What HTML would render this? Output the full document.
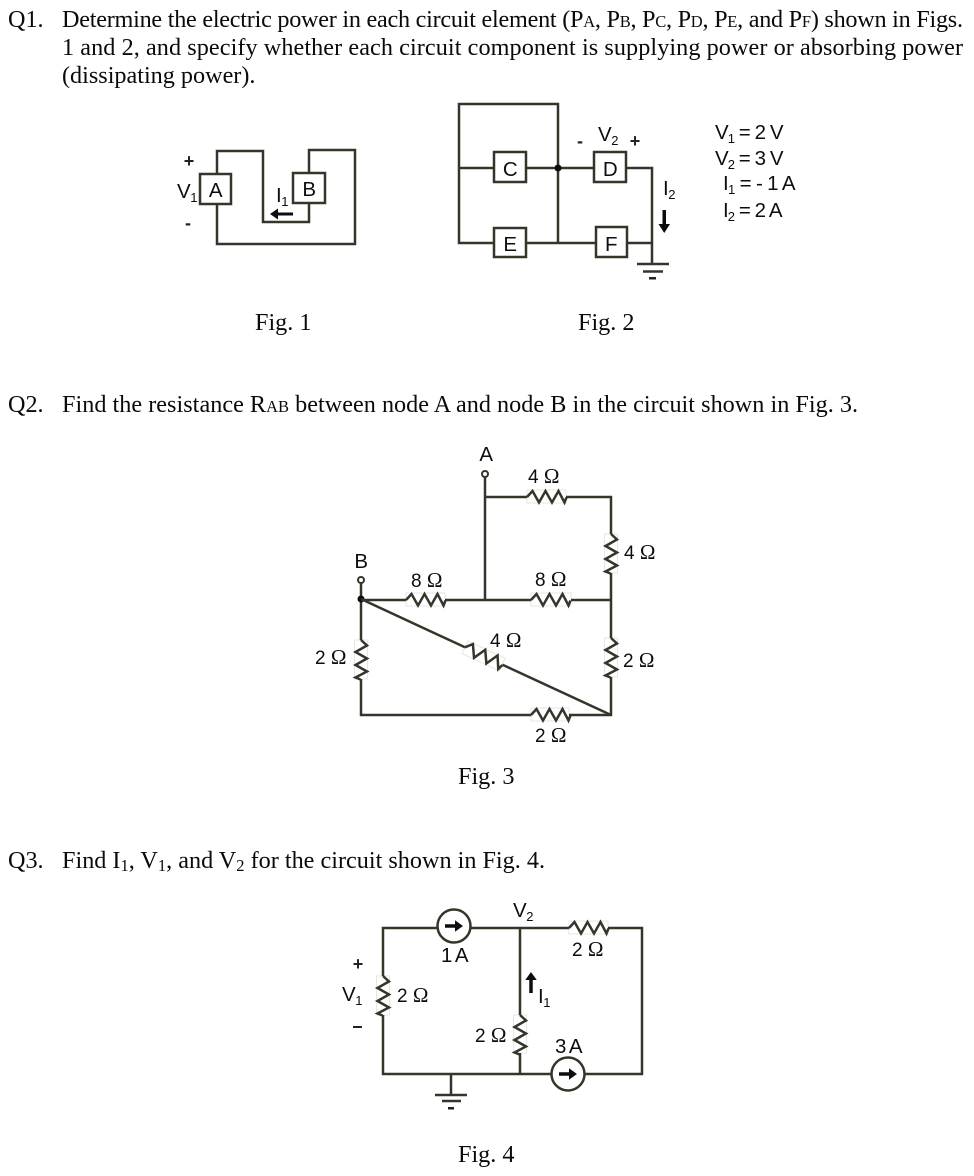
<!DOCTYPE html>
<html>
<head>
<meta charset="utf-8">
<style>
html,body{margin:0;padding:0;background:#fff;width:974px;height:1176px;overflow:hidden}
svg{display:block}
.t{font-family:"Liberation Serif",serif;font-size:24.2px;fill:#0a0a0a}
.t .s{font-size:16.5px}
.t .d{font-size:16.5px}
.w{fill:none;stroke:#36352b;stroke-width:2.5;stroke-linejoin:miter}
.r{fill:none;stroke:#e6e6e4;stroke-width:1}
.b{fill:#fff;stroke:#36352b;stroke-width:2.5}
.l{font-family:"Liberation Sans",sans-serif;font-size:19px;fill:#111}
.l .o{font-family:"Liberation Serif",serif;font-size:21px}
.l .u{font-size:13px}
.c{text-anchor:middle}
.n{font-size:20.5px;letter-spacing:-0.5px}
.p{font-family:"Liberation Sans",sans-serif;font-size:18px;font-weight:bold;fill:#222;text-anchor:middle}
</style>
</head>
<body>
<svg width="974" height="1176" viewBox="0 0 974 1176" xmlns="http://www.w3.org/2000/svg">
<defs>
<filter id="f" filterUnits="userSpaceOnUse" x="0" y="0" width="974" height="1176"><feGaussianBlur stdDeviation="0.3"/></filter>
</defs>
<rect width="974" height="1176" fill="#fff"/>

<!-- Text -->
<g class="t">
<text x="8" y="27">Q1.</text>
<text x="62" y="27" textLength="901">Determine the electric power in each circuit element (P<tspan class="s">A</tspan>, P<tspan class="s">B</tspan>, P<tspan class="s">C</tspan>, P<tspan class="s">D</tspan>, P<tspan class="s">E</tspan>, and P<tspan class="s">F</tspan>) shown in Figs.</text>
<text x="62" y="55" textLength="901">1 and 2, and specify whether each circuit component is supplying power or absorbing power</text>
<text x="62" y="83">(dissipating power).</text>
<text x="255" y="330">Fig. 1</text>
<text x="578" y="330">Fig. 2</text>
<text x="8" y="412">Q2.</text>
<text x="62" y="412" textLength="796">Find the resistance R<tspan class="s">AB</tspan> between node A and node B in the circuit shown in Fig. 3.</text>
<text x="458" y="784">Fig. 3</text>
<text x="8" y="868">Q3.</text>
<text x="62" y="868" textLength="483">Find I<tspan class="d" dy="3">1</tspan><tspan dy="-3">, V</tspan><tspan class="d" dy="3">1</tspan><tspan dy="-3">, and V</tspan><tspan class="d" dy="3">2</tspan><tspan dy="-3"> for the circuit shown in Fig. 4.</tspan></text>
<text x="458" y="1162">Fig. 4</text>
</g>

<g filter="url(#f)">
<!-- Fig 1 -->
<path class="w" d="M217 174V151H263V222H309V203M309 173V150H355V244H217V204"/>
<rect class="b" x="200" y="174" width="31" height="30"/>
<rect class="b" x="293" y="173" width="32" height="30"/>
<path d="M293 212.500v3h-15v4l-8,-5.500 8,-5.500v4z" fill="#111"/>
<text class="p" x="189" y="167">+</text>
<text class="p" x="188" y="229">-</text>
<text class="l n" x="177" y="198">V<tspan class="u" dy="4">1</tspan></text>
<text class="l c n" x="215.500" y="197">A</text>
<text class="l c n" x="309" y="196">B</text>
<text class="l n" x="276" y="202">I<tspan class="u" dy="4">1</tspan></text>

<!-- Fig 2 -->
<path class="w" d="M494 168H459V104H558V243H459V168M526 168H594M626 168H652V264M627 243H652M558 243H596M526 243H558M459 243H494"/>
<rect class="b" x="494" y="152" width="32" height="30"/>
<rect class="b" x="494" y="228" width="32" height="29"/>
<rect class="b" x="594" y="152" width="32" height="30"/>
<rect class="b" x="596" y="227" width="31" height="30"/>
<circle cx="558" cy="168" r="3.500" fill="#111"/>
<path class="w" d="M637 264H669M643 271.500H663"/>
<path d="M649 277h7v2.500h-7z" fill="#222"/>
<path d="M662.500 210h3.500v14h4l-5.750,9 -5.750,-9h4z" fill="#111"/>
<text class="p" x="580" y="147">-</text>
<text class="l n" x="598" y="141">V<tspan class="u" dy="4">2</tspan></text>
<text class="p" x="635" y="147">+</text>
<text class="l c n" x="510" y="176">C</text>
<text class="l c n" x="610" y="176">D</text>
<text class="l c n" x="510" y="251">E</text>
<text class="l c n" x="611" y="251">F</text>
<text class="l n" x="663" y="195">I<tspan class="u" dy="4">2</tspan></text>
<text class="l n" x="715" y="139" textLength="68">V<tspan class="u" dy="4">1</tspan><tspan dy="-4"> = 2 V</tspan></text>
<text class="l n" x="715" y="165" textLength="68">V<tspan class="u" dy="4">2</tspan><tspan dy="-4"> = 3 V</tspan></text>
<text class="l n" x="723" y="190" textLength="72">I<tspan class="u" dy="4">1</tspan><tspan dy="-4"> = - 1 A</tspan></text>
<text class="l n" x="723" y="217" textLength="59">I<tspan class="u" dy="4">2</tspan><tspan dy="-4"> = 2 A</tspan></text>

<!-- Fig 3 -->
<g class="r">
<rect x="527" y="490" width="39" height="13"/>
<rect x="604.500" y="534" width="13" height="39"/>
<rect x="406" y="593" width="39" height="13"/>
<rect x="531" y="593" width="40" height="13"/>
<rect x="604.500" y="638" width="13" height="39"/>
<rect x="531" y="708" width="38" height="13"/>
<rect x="354.500" y="640" width="13" height="39"/>
<rect x="0" y="-7" width="41" height="14" transform="translate(465 647.300) rotate(24.900)"/>
<rect x="569" y="921" width="39" height="13"/>
<rect x="376.500" y="976" width="13" height="39"/>
<rect x="513.500" y="1015" width="13" height="38"/>
</g>
<circle cx="485" cy="474" r="3" fill="#fff" stroke="#36352b" stroke-width="2"/>
<path class="w" d="M485 477V600M485 497H527M566 497H611V534M611 573V638M406 600H361M445 600H531M571 600H611M611 677V715H569M531 715H361V679M361 640V600V583"/>
<circle cx="361" cy="580" r="3" fill="#fff" stroke="#36352b" stroke-width="2"/>
<circle cx="361" cy="599" r="3.500" fill="#111"/>
<path class="w" d="M361 599L465 647.300M502.500 664.700L611 715"/>
<path class="w" d="M0 0l5.500-6 6.500 11.500 6.500-11.500 6.500 11.500 6.500-11.500 6 11.500 2-5" transform="translate(527 497)"/>
<path class="w" d="M0 0l5.500-6 6.500 11.500 6.500-11.500 6.500 11.500 6.500-11.500 6 11.500 2-5" transform="translate(611 534) rotate(90)"/>
<path class="w" d="M0 0l5.500-6 6.500 11.500 6.500-11.500 6.500 11.500 6.500-11.500 6 11.500 2-5" transform="translate(406 600)"/>
<path class="w" d="M0 0l5.500-6 6.500 11.500 6.500-11.500 6.500 11.500 6.500-11.500 6 11.500 2-5" transform="translate(531 600)"/>
<path class="w" d="M0 0l5.500-6 6.500 11.500 6.500-11.500 6.500 11.500 6.500-11.500 6 11.500 2-5" transform="translate(611 638) rotate(90)"/>
<path class="w" d="M0 0l5.500-6 6.500 11.500 6.500-11.500 6.500 11.500 6.500-11.500 6 11.500 2-5" transform="translate(531 715)"/>
<path class="w" d="M0 0l5.500-6 6.500 11.500 6.500-11.500 6.500 11.500 6.500-11.500 6 11.500 2-5" transform="translate(361 640) rotate(90)"/>
<path class="w" d="M0 0l5.800-6.300 6.800 12 6.800-12 6.800 12 6.800-12 6.300 12 2.100-5.300" transform="translate(465 647.300) rotate(24.900)"/>
<text class="l c n" x="486" y="461">A</text>
<text class="l c n" x="361" y="568">B</text>
<text class="l" x="528" y="483">4 <tspan class="o">Ω</tspan></text>
<text class="l" x="624" y="559">4 <tspan class="o">Ω</tspan></text>
<text class="l" x="411" y="587">8 <tspan class="o">Ω</tspan></text>
<text class="l" x="535" y="586">8 <tspan class="o">Ω</tspan></text>
<text class="l" x="490" y="647">4 <tspan class="o">Ω</tspan></text>
<text class="l" x="315" y="664">2 <tspan class="o">Ω</tspan></text>
<text class="l" x="623" y="667">2 <tspan class="o">Ω</tspan></text>
<text class="l" x="535" y="742">2 <tspan class="o">Ω</tspan></text>

<!-- Fig 4 -->
<path class="w" d="M437 928H383V976M383 1015V1074H551M585 1074H642V928H608M569 928H471M520 928V1015M520 1053V1074M451 1074V1095"/>
<path class="w" d="M0 0l5.500-6 6.500 11.500 6.500-11.500 6.500 11.500 6.500-11.500 6 11.500 2-5" transform="translate(569 928)"/>
<path class="w" d="M0 0l5.500-6 6.500 11.500 6.500-11.500 6.500 11.500 6.500-11.500 6 11.500 2-5" transform="translate(383 976) rotate(90)"/>
<path class="w" d="M0 0l5.500-6 6.500 11.500 6.500-11.500 6.500 11.500 6.500-11.500 6 11.500 2-5" transform="translate(520 1015) rotate(90)"/>
<circle cx="454" cy="926" r="16.500" class="b"/>
<circle cx="568" cy="1074" r="16.500" class="b"/>
<path d="M445 924.250h10v-4l8 5.750-8 5.750v-4h-10z" fill="#111"/>
<path d="M559 1072.250h10v-4l8 5.750-8 5.750v-4h-10z" fill="#111"/>
<path d="M529.250 993v-13h-4l5.750-8 5.750 8h-4v13z" fill="#111"/>
<path class="w" d="M435 1095H467M442 1101H461"/>
<path d="M448 1107h6v2.500h-6z" fill="#222"/>
<text class="l n" x="513" y="917">V<tspan class="u" dy="4">2</tspan></text>
<text class="l n" x="441" y="962" textLength="27">1 A</text>
<text class="l" x="572" y="956">2 <tspan class="o">Ω</tspan></text>
<text class="p" x="358" y="970">+</text>
<text class="l n" x="342" y="1001">V<tspan class="u" dy="4">1</tspan></text>
<path d="M353 1026h9v2h-9z" fill="#222"/>
<text class="l" x="397" y="1002">2 <tspan class="o">Ω</tspan></text>
<text class="l n" x="538" y="1003">I<tspan class="u" dy="4">1</tspan></text>
<text class="l" x="475" y="1042">2 <tspan class="o">Ω</tspan></text>
<text class="l n" x="555" y="1053" textLength="27">3 A</text>
</g>
</svg>
</body>
</html>
